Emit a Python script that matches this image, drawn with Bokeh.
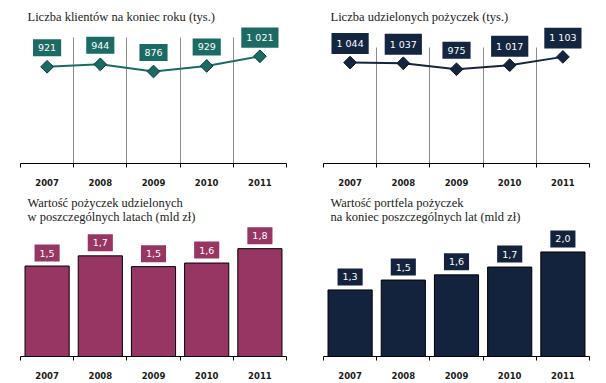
import math
from bokeh.plotting import figure
from bokeh.models import Range1d, FixedTicker, ColumnDataSource, Grid
from bokeh.layouts import column, row
from bokeh.embed import file_html
from bokeh.resources import INLINE
from bokeh.core.properties import value

years = ["2007", "2008", "2009", "2010", "2011"]
clients = [921, 944, 876, 929, 1021]
loans_count = [1044, 1037, 975, 1017, 1103]
loans_value = [1.51, 1.68, 1.50, 1.56, 1.80]
portfolio = [1.28, 1.47, 1.57, 1.72, 2.01]
grid_top = 1200  # value axis maximum of the line charts

title_tl = "Liczba klientów na koniec roku (tys.)"
title_tr = "Liczba udzielonych pożyczek  (tys.)"
title_bl = "Wartość pożyczek  udzielonych\n w poszczególnych latach (mld zł)"
title_br = "Wartość portfela pożyczek\nna koniec poszczególnych lat (mld zł)"

TEAL = "#1B6B64"
NAVY = "#14253F"
MAROON = "#973563"
NAVY2 = "#13233E"
GRID = "#8c8c8c"


def fmt_int(v):
    return f"{v:,}".replace(",", " ")


def fmt_dec(v):
    return f"{v:.1f}".replace(".", ",")


def base_fig(title, h, b_top, ymax, standoff):
    p = figure(width=303, height=h,
               min_border_left=20, min_border_right=17,
               min_border_top=b_top, min_border_bottom=27,
               x_range=Range1d(0, 5), y_range=Range1d(0, ymax),
               output_backend="svg", toolbar_location=None)
    p.title.text = title
    p.title.align = "left"
    p.title.offset = 7
    p.title.standoff = standoff
    p.title.text_font = "Liberation Serif"
    p.title.text_font_size = "12.5px"
    p.title.text_font_style = "normal"
    p.title.text_color = "#1a1a1a"
    p.title.text_line_height = 1.05
    p.outline_line_color = None
    p.yaxis.visible = False
    p.ygrid.visible = False
    ax = p.xaxis[0]
    ax.ticker = FixedTicker(ticks=[i + 0.5 for i in range(len(years))],
                            minor_ticks=list(range(len(years) + 1)))
    ax.major_label_overrides = {i + 0.5: y for i, y in enumerate(years)}
    ax.major_tick_line_color = None
    ax.major_tick_out = 0
    ax.major_tick_in = 0
    ax.minor_tick_line_color = "black"
    ax.minor_tick_out = 4
    ax.minor_tick_in = 0
    ax.axis_line_color = "black"
    ax.major_label_text_font = "DejaVu Sans"
    ax.major_label_text_font_style = "bold"
    ax.major_label_text_font_size = "8.5px"
    ax.major_label_text_color = "#1a1a1a"
    ax.major_label_standoff = 11
    p.xgrid.grid_line_color = None
    p.xgrid.minor_grid_line_color = None
    return p


def add_vgrid(p):
    bounds = list(range(len(years) + 1))
    if "cross_bounds" in Grid.properties():
        p.xgrid.minor_grid_line_color = GRID
        p.xgrid.cross_bounds = (0, grid_top)
    else:
        p.segment(x0=bounds, y0=[0] * len(bounds), x1=bounds,
                  y1=[grid_top] * len(bounds), line_color=GRID, line_width=1)


def line_panel(p, vals, color, edge):
    add_vgrid(p)
    src = ColumnDataSource(dict(x=[i + 0.5 for i in range(len(vals))], y=vals,
                                lbl=[fmt_int(v) for v in vals]))
    p.line("x", "y", source=src, line_color=color, line_width=2)
    p.scatter("x", "y", source=src, marker="square", size=9, angle=math.pi / 4,
              fill_color=color, line_color=edge, line_width=1)
    p.text("x", "y", text="lbl", source=src, y_offset=-19,
           text_align="center", text_baseline="middle", text_color="white",
           text_font=value("DejaVu Sans"), text_font_size=value("9.5px"),
           background_fill_color=color, padding=5)


def bar_panel(p, vals, color):
    src = ColumnDataSource(dict(x=[i + 0.5 for i in range(len(vals))], y=vals,
                                lbl=[fmt_dec(v) for v in vals]))
    p.vbar(x="x", top="y", width=0.83, source=src, fill_color=color,
           line_color="black", line_width=1)
    p.text("x", "y", text="lbl", source=src, y_offset=-13,
           text_align="center", text_baseline="middle", text_color="white",
           text_font=value("DejaVu Sans"), text_font_size=value("9.5px"),
           background_fill_color=color, padding=5)


p1 = base_fig(title_tl, 190, 27, 1295, 7)
line_panel(p1, clients, TEAL, "#0B3A36")
p2 = base_fig(title_tr, 190, 27, 1407, 7)
line_panel(p2, loans_count, NAVY, "#0A1424")
p3 = base_fig(title_bl, 193, 36, 2.17, 4)
bar_panel(p3, loans_value, MAROON)
p4 = base_fig(title_br, 193, 36, 2.5, 4)
bar_panel(p4, portfolio, NAVY2)

layout = column(row(p1, p2), row(p3, p4))
open("out.html", "w").write(file_html(layout, INLINE))
